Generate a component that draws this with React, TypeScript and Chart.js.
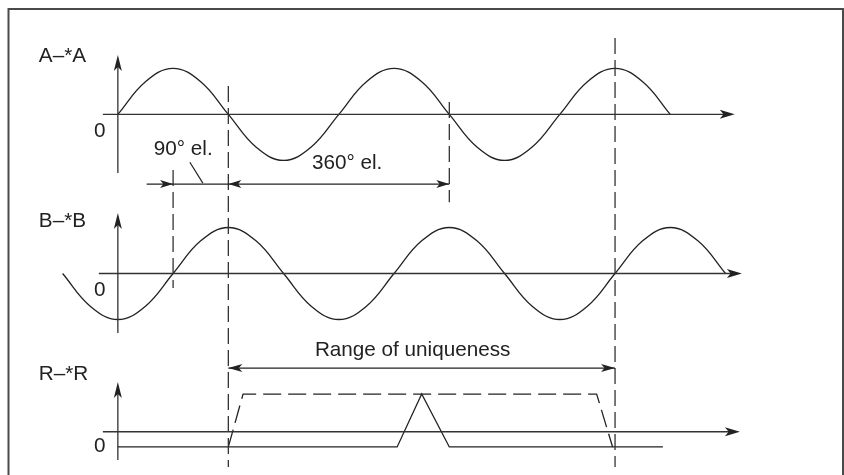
import { useEffect, useRef } from 'react';
import { Chart, registerables } from 'chart.js';

Chart.register(...registerables);

// ---------- scale extents (electrical degrees / amplitude units) ----------
const X_MIN = -192;
const X_MAX = 1183;
const Y_MIN = -0.61;
const Y_MAX = 9.716;

// panel baselines (amplitude units)
const OFFSET_A = 7.23;
const OFFSET_B = 3.77;
const OFFSET_R = 0;
const R_AXIS_LEVEL = 0.33;

// ---------- data ----------
const WAVE_A_DEG = [0, 45, 90, 135, 180, 225, 270, 315, 360, 405, 450, 495, 540, 585, 630, 675, 720, 765, 810, 855, 900];
const WAVE_A_VAL = [0, 0.71, 1, 0.71, 0, -0.71, -1, -0.71, 0, 0.71, 1, 0.71, 0, -0.71, -1, -0.71, 0, 0.71, 1, 0.71, 0];

const WAVE_B_DEG = [-90, -45, 0, 45, 90, 135, 180, 225, 270, 315, 360, 405, 450, 495, 540, 585, 630, 675, 720, 765, 810, 855, 900, 945, 990];
const WAVE_B_VAL = [0, -0.71, -1, -0.71, 0, 0.71, 1, 0.71, 0, -0.71, -1, -0.71, 0, 0.71, 1, 0.71, 0, -0.71, -1, -0.71, 0, 0.71, 1, 0.71, 0];

const R_SOLID_DEG = [0, 455, 495, 540, 888];
const R_SOLID_VAL = [0, 0, 1.15, 0, 0];

const R_DASH_DEG = [180, 204, 780, 806];
const R_DASH_VAL = [0, 1.15, 1.15, 0];

// vertical dashed reference lines
const MARKER_DEG = [90, 180, 540, 810];
const MARKER_TOP = [6.02, 7.845, 7.5, 8.89];
const MARKER_BOTTOM = [3.455, -0.437, 5.32, -0.437];

// dimension line (90° el. / 360° el.)
const DIM_Y = 5.715;
const DIM_FROM = 47;
const DIM_TO = 540;
const DIM_ARROWS_DEG = [90, 180, 540];
const DIM_ARROWS_DIR = [1, -1, 1];
const LEADER_DEG = [117.3, 138.5];
const LEADER_VAL = [6.19, 5.735];

// range of uniqueness
const RANGE_Y = 1.715;
const RANGE_FROM = 180;
const RANGE_TO = 810;

// panel axes
const AXIS_BASE = [OFFSET_A, OFFSET_B, R_AXIS_LEVEL];
const AXIS_H_FROM = [-24.4, -31, -24.4];
const AXIS_H_TO = [1005, 1016.6, 1013.4];
const AXIS_V_BOTTOM = [OFFSET_A - 1.276, OFFSET_B - 1.294, OFFSET_R - 0.285];
const AXIS_V_TOP = [OFFSET_A + 1.29, OFFSET_B + 1.315, OFFSET_R + 1.41];

// labels
const LABEL_TEXT = ['A–*A', '0', '90° el.', '360° el.', 'B–*B', '0', 'Range of uniqueness', 'R–*R', '0'];
const LABEL_DEG = [-128.7, -29.3, 58.6, 316.1, -128.7, -29.3, 321, -128.7, -29.3];
const LABEL_VAL = [8.367, 6.737, 6.35, 6.04, 4.78, 3.28, 1.976, 1.454, -0.11];
const LABEL_ALIGN: CanvasTextAlign[] = ['left', 'center', 'left', 'left', 'left', 'center', 'left', 'left', 'center'];

const INK = '#222222';
const AXIS_INK = '#333333';
const FONT = '20.7px "Liberation Sans", Arial, Helvetica, sans-serif';

const pts = (xs: number[], ys: number[], off: number) => xs.map((x, i) => ({ x, y: ys[i] + off }));

function arrowHead(ctx: CanvasRenderingContext2D, tx: number, ty: number, dx: number, dy: number, len: number, half: number) {
  const px = -dy;
  const py = dx;
  const notch = len * 0.25;
  ctx.beginPath();
  ctx.moveTo(tx, ty);
  ctx.lineTo(tx - dx * len + px * half, ty - dy * len + py * half);
  ctx.lineTo(tx - dx * (len - notch), ty - dy * (len - notch));
  ctx.lineTo(tx - dx * len - px * half, ty - dy * len - py * half);
  ctx.closePath();
  ctx.fill();
}

const overlay = {
  id: 'overlay',
  afterDatasetsDraw(chart: any) {
    const ctx: CanvasRenderingContext2D = chart.ctx;
    const xs = chart.scales.x;
    const ys = chart.scales.y;
    const X = (v: number) => xs.getPixelForValue(v);
    const Y = (v: number) => ys.getPixelForValue(v);
    const area = chart.chartArea;
    ctx.save();

    // frame
    ctx.strokeStyle = '#4a4a4a';
    ctx.lineWidth = 2;
    ctx.beginPath();
    ctx.moveTo(area.left + 8.5, area.bottom + 10);
    ctx.lineTo(area.left + 8.5, area.top + 9);
    ctx.lineTo(area.right - 1, area.top + 9);
    ctx.lineTo(area.right - 1, area.bottom + 10);
    ctx.stroke();

    // axes
    ctx.strokeStyle = AXIS_INK;
    ctx.fillStyle = INK;
    ctx.lineWidth = 1.3;
    for (let i = 0; i < AXIS_BASE.length; i++) {
      const y = Y(AXIS_BASE[i]);
      const x0 = X(AXIS_H_FROM[i]);
      const x1 = X(AXIS_H_TO[i]);
      ctx.beginPath();
      ctx.moveTo(x0, y);
      ctx.lineTo(x1 - 8, y);
      ctx.stroke();
      arrowHead(ctx, x1, y, 1, 0, 15, 4.5);
      const vx = X(0);
      const vb = Y(AXIS_V_BOTTOM[i]);
      const vt = Y(AXIS_V_TOP[i]);
      ctx.beginPath();
      ctx.moveTo(vx, vb);
      ctx.lineTo(vx, vt + 8);
      ctx.stroke();
      arrowHead(ctx, vx, vt, 0, -1, 16, 4);
    }

    // dashed markers
    ctx.strokeStyle = AXIS_INK;
    ctx.lineWidth = 1.3;
    ctx.setLineDash([16, 6]);
    for (let i = 0; i < MARKER_DEG.length; i++) {
      ctx.beginPath();
      ctx.moveTo(X(MARKER_DEG[i]), Y(MARKER_TOP[i]));
      ctx.lineTo(X(MARKER_DEG[i]), Y(MARKER_BOTTOM[i]));
      ctx.stroke();
    }
    ctx.setLineDash([]);

    // dimension line
    ctx.strokeStyle = INK;
    ctx.lineWidth = 1.2;
    ctx.beginPath();
    ctx.moveTo(X(DIM_FROM), Y(DIM_Y));
    ctx.lineTo(X(DIM_TO), Y(DIM_Y));
    ctx.stroke();
    for (let i = 0; i < DIM_ARROWS_DEG.length; i++) {
      arrowHead(ctx, X(DIM_ARROWS_DEG[i]), Y(DIM_Y), DIM_ARROWS_DIR[i], 0, 13, 4);
    }
    ctx.beginPath();
    ctx.moveTo(X(LEADER_DEG[0]), Y(LEADER_VAL[0]));
    ctx.lineTo(X(LEADER_DEG[1]), Y(LEADER_VAL[1]));
    ctx.stroke();

    // range of uniqueness
    ctx.beginPath();
    ctx.moveTo(X(RANGE_FROM), Y(RANGE_Y));
    ctx.lineTo(X(RANGE_TO), Y(RANGE_Y));
    ctx.stroke();
    arrowHead(ctx, X(RANGE_FROM), Y(RANGE_Y), -1, 0, 14, 4);
    arrowHead(ctx, X(RANGE_TO), Y(RANGE_Y), 1, 0, 14, 4);

    // labels
    ctx.font = FONT;
    ctx.fillStyle = INK;
    ctx.textBaseline = 'alphabetic';
    for (let i = 0; i < LABEL_TEXT.length; i++) {
      ctx.textAlign = LABEL_ALIGN[i];
      ctx.fillText(LABEL_TEXT[i], X(LABEL_DEG[i]), Y(LABEL_VAL[i]));
    }
    ctx.restore();
  },
};

export default function App() {
  const ref = useRef<HTMLCanvasElement>(null);
  useEffect(() => {
    if (!ref.current) return;
    const lineDs = (data: any[], dash: number[] = [], tension = 0) => ({
      data,
      showLine: true,
      borderColor: INK,
      borderWidth: 1.3,
      borderDash: dash,
      pointRadius: 0,
      pointHoverRadius: 0,
      tension,
      fill: false,
    });
    const chart = new Chart(ref.current, {
      type: 'scatter',
      data: {
        datasets: [
          lineDs(pts(WAVE_A_DEG, WAVE_A_VAL, OFFSET_A), [], 0.4),
          lineDs(pts(WAVE_B_DEG, WAVE_B_VAL, OFFSET_B), [], 0.4),
          lineDs(pts(R_SOLID_DEG, R_SOLID_VAL, OFFSET_R)),
          lineDs(pts(R_DASH_DEG, R_DASH_VAL, OFFSET_R), [18, 7]),
        ] as any,
      },
      options: {
        responsive: false,
        maintainAspectRatio: false,
        animation: false,
        events: [],
        layout: { padding: 0 },
        scales: {
          x: { type: 'linear', min: X_MIN, max: X_MAX, display: false },
          y: { type: 'linear', min: Y_MIN, max: Y_MAX, display: false },
        },
        plugins: { legend: { display: false }, tooltip: { enabled: false } },
      },
      plugins: [overlay],
    });
    return () => chart.destroy();
  }, []);
  return (
    <div style={{ position: 'absolute', left: 0, top: 0, width: 844, height: 475, background: '#fff' }}>
      <canvas ref={ref} width={844} height={475} style={{ display: 'block' }} />
    </div>
  );
}
